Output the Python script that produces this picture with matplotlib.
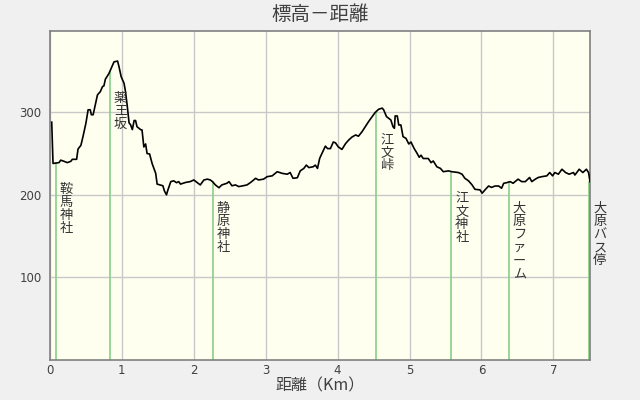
import matplotlib
matplotlib.use("Agg")
import matplotlib.pyplot as plt

plt.rcParams["font.family"] = ["Noto Sans CJK JP", "DejaVu Sans"]

# elevation profile: distance (km) / elevation (m)
dist = [0.024, 0.033, 0.042, 0.125, 0.149, 0.195, 0.24, 0.29, 0.31, 0.37,
        0.39, 0.43, 0.46, 0.50, 0.53, 0.56, 0.575, 0.60, 0.635, 0.66,
        0.70, 0.73, 0.75, 0.77, 0.82, 0.84, 0.89, 0.94, 0.96, 0.99,
        1.03, 1.05, 1.075, 1.10, 1.12, 1.145, 1.17, 1.19, 1.21, 1.26,
        1.28, 1.305, 1.33, 1.35, 1.385, 1.42, 1.47, 1.49, 1.53, 1.57,
        1.59, 1.62, 1.64, 1.68, 1.72, 1.76, 1.79, 1.815, 1.885, 1.95,
        2.00, 2.05, 2.09, 2.14, 2.19, 2.23, 2.26, 2.30, 2.35, 2.39,
        2.46, 2.49, 2.53, 2.58, 2.625, 2.67, 2.74, 2.79, 2.86, 2.90,
        2.97, 3.02, 3.09, 3.16, 3.23, 3.30, 3.34, 3.38, 3.44, 3.48,
        3.53, 3.565, 3.60, 3.66, 3.69, 3.72, 3.75, 3.76, 3.83, 3.86,
        3.90, 3.94, 3.97, 4.01, 4.06, 4.11, 4.15, 4.20, 4.25, 4.29,
        4.34, 4.385, 4.43, 4.48, 4.52, 4.57, 4.62, 4.64, 4.68, 4.71,
        4.74, 4.77, 4.79, 4.80, 4.83, 4.85, 4.88, 4.91, 4.95, 4.99,
        5.02, 5.065, 5.10, 5.135, 5.16, 5.19, 5.26, 5.30, 5.33, 5.38,
        5.43, 5.47, 5.54, 5.59, 5.68, 5.73, 5.77, 5.82, 5.87, 5.91,
        5.98, 6.01, 6.05, 6.10, 6.14, 6.19, 6.24, 6.28, 6.31, 6.35,
        6.40, 6.44, 6.51, 6.56, 6.61, 6.67, 6.70, 6.75, 6.79, 6.84,
        6.91, 6.95, 6.99, 7.02, 7.07, 7.12, 7.17, 7.22, 7.28, 7.30,
        7.36, 7.41, 7.46, 7.49, 7.51]
elev = [288, 263, 238, 239, 242, 240.6, 239, 240.6, 243, 243,
        255.5, 260, 271, 287, 303, 303, 297, 297, 311, 321,
        325, 331, 332, 340, 347, 351, 361, 362, 355, 343,
        335, 325, 307, 287, 285, 279, 290, 290, 282.5, 279,
        278.5, 258, 261.6, 250, 249.5, 238, 226, 213, 212, 211,
        205, 200, 206, 216, 217, 214.7, 216, 213, 215, 216,
        218, 214.7, 212, 218, 219, 218, 216, 212, 208.6, 212,
        214, 216, 211, 212, 210, 210.7, 212, 215, 220, 218,
        219, 222, 223, 228, 226, 225, 227, 220, 220.7, 229,
        232, 236, 233, 234, 236, 232, 244, 246, 259, 256,
        256, 264, 263, 258, 255, 262, 266, 270, 272.5, 271,
        276.5, 282.5, 288.6, 294.7, 299.5, 303.6, 305, 303, 294.7, 292.7,
        290.7, 282.5, 280.6, 295.5, 295.5, 284.6, 284.6, 270.4, 268.5, 261.6,
        264, 256, 251, 245.5, 248, 244, 244, 239, 241, 234,
        232, 228, 229, 228, 227, 225, 220, 217, 212, 206.7,
        206, 202, 206, 210.7, 209, 210.7, 210.7, 208, 214, 214.7,
        216, 214, 219, 216, 216, 221, 216, 219, 221, 222,
        223, 227, 223, 227, 225, 231, 227, 225, 227, 224,
        231, 227, 231, 227, 216]

# landmarks along the route
place_names = ["鞍馬神社", "薬王坂", "静原神社", "江文峠", "江文神社", "大原ファーム", "大原バス停"]
place_dist = [0.083, 0.833, 2.26, 4.54, 5.58, 6.38, 7.50]
place_elev = [239, 349, 216, 299, 228, 216, 216]

x_ticks = [0, 1, 2, 3, 4, 5, 6, 7]
y_ticks = [100, 200, 300]

fig = plt.figure(figsize=(6.4, 4.0), dpi=100, facecolor="#F0F0F0")
ax = fig.add_axes([50 / 640, 40 / 400, 540 / 640, 329.5 / 400])
ax.set_facecolor("#FFFFF0")

for x, y in zip(place_dist, place_elev):
    ax.plot([x, x], [0, y], color="#88D088", lw=1.2, zorder=2)

ax.plot(dist, elev, color="black", lw=1.2, zorder=3)

for name, x, y in zip(place_names, place_dist, place_elev):
    ax.annotate("\n".join(name), xy=(x, y), xytext=(4, -20),
                textcoords="offset pixels", ha="left", va="top",
                fontsize=9.5, linespacing=1.02, color="#333333",
                annotation_clip=False, zorder=4)

ax.set_xlim(0, 7.51)
ax.set_ylim(0, 399)
ax.set_xticks(x_ticks)
ax.set_yticks(y_ticks)
ax.grid(True, color="#C8C8C8", lw=1.0, zorder=1)
ax.set_axisbelow(True)
ax.tick_params(length=0, labelsize=8.5, labelcolor="#404040", pad=6)
ax.tick_params(axis="x", pad=3)
for lbl in ax.get_xticklabels() + ax.get_yticklabels():
    lbl.set_family("DejaVu Sans")
for sp in ax.spines.values():
    sp.set_color("#808080")
    sp.set_linewidth(1.2)

fig.text(0.5, 1 - 14 / 400, "標高－距離", ha="center", va="center",
         fontsize=14, color="#404040")
fig.text(0.5, 1 - 386 / 400, "距離（Km）", ha="center", va="center",
         fontsize=11.5, color="#404040")

fig.savefig("out.png", dpi=100, facecolor=fig.get_facecolor())
